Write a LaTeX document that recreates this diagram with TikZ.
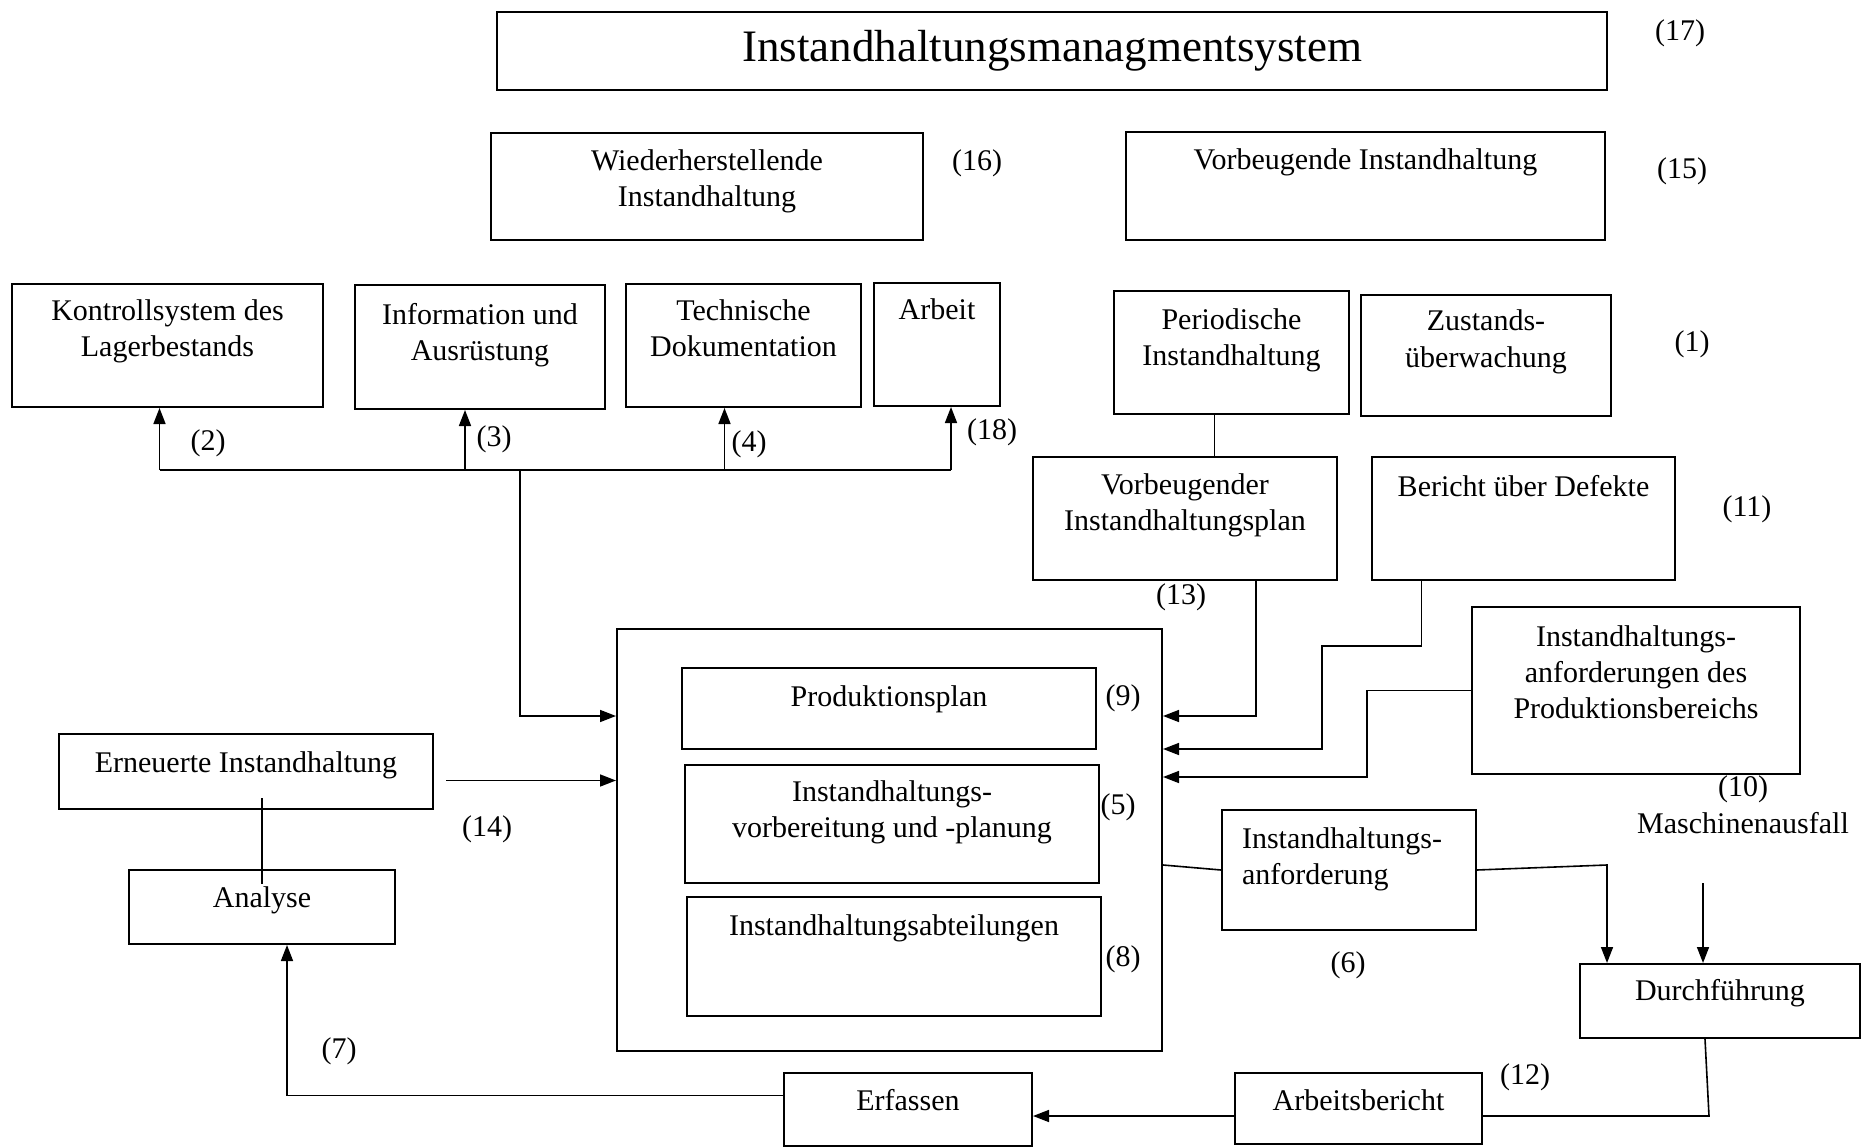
\documentclass[tikz,border=0pt]{standalone}
\usepackage{fontspec}
\setmainfont{Liberation Serif}
\usetikzlibrary{arrows.meta}

\tikzset{
  kasten/.style={draw, line width=2pt, anchor=north west, inner xsep=0pt, inner ysep=0pt,
    align=center, font=\fontsize{30}{36}\selectfont},
  nummer/.style={font=\fontsize{30}{36}\selectfont},
  linie/.style={line width=1.6pt},
  pfeil/.style={line width=1.6pt, -{Triangle[length=16pt,width=12pt]}}
}

\begin{document}
\begin{tikzpicture}[x=1pt,y=-1pt]
\useasboundingbox (0,0) rectangle (1871,1147);

\node[kasten, minimum width=1110pt, minimum height=78pt, font=\fontsize{45}{54}\selectfont] (titel) at (496,11) {Instandhaltungsmanagmentsystem};
\node[kasten, minimum width=432pt, text height=74pt, text depth=33pt] (wieder) at (490,132) {Wiederherstellende\\Instandhaltung};
\node[kasten, minimum width=479pt, text height=38pt, text depth=70pt] (vorbeug) at (1125,131) {Vorbeugende Instandhaltung};

\node[kasten, minimum width=311pt, text height=73pt, text depth=50pt] (kontroll) at (11,283) {Kontrollsystem des\\Lagerbestands};
\node[kasten, minimum width=250pt, text height=76pt, text depth=48pt] (info) at (354,284) {Information und\\Ausrüstung};
\node[kasten, minimum width=235pt, text height=73pt, text depth=50pt] (technik) at (625,283) {Technische\\Dokumentation};
\node[kasten, minimum width=126pt, text height=37pt, text depth=86pt] (arbeit) at (873,282) {Arbeit};

\node[kasten, minimum width=235pt, text height=75pt, text depth=48pt] (periodisch) at (1113,290) {Periodische\\Instandhaltung};
\node[kasten, minimum width=250pt, text height=72pt, text depth=49pt] (zustand) at (1360,294) {Zustands-\\überwachung};
\node[kasten, minimum width=304pt, text height=73pt, text depth=50pt] (vplan) at (1032,456) {Vorbeugender\\Instandhaltungsplan};
\node[kasten, minimum width=303pt, text height=39pt, text depth=84pt] (bericht) at (1371,456) {Bericht über Defekte};
\node[kasten, minimum width=328pt, text height=111pt, text depth=56pt] (prodber) at (1471,606) {Instandhaltungs-\\anforderungen des\\Produktionsbereichs};

\node[kasten, minimum width=545pt, minimum height=422pt] (haupt) at (616,628) {};
\node[kasten, minimum width=414pt, text height=38pt, text depth=43pt] (prodplan) at (681,667) {Produktionsplan};
\node[kasten, minimum width=414pt, text height=72pt, text depth=46pt] (vorber) at (684,764) {Instandhaltungs-\\vorbereitung und -planung};
\node[kasten, minimum width=414pt, text height=38pt, text depth=81pt] (abteil) at (686,896) {Instandhaltungsabteilungen};

\node[kasten, minimum width=254pt, text width=214pt, align=left, text height=38pt, text depth=82pt] (anford) at (1221,809) {Instandhaltungs-\\anforderung};
\node[kasten, minimum width=280pt, text height=36pt, text depth=38pt] (durch) at (1579,963) {Durchführung};
\node[kasten, minimum width=247pt, text height=37pt, text depth=34pt] (arbber) at (1234,1072) {Arbeitsbericht};
\node[kasten, minimum width=248pt, text height=37pt, text depth=36pt] (erfassen) at (783,1072) {Erfassen};
\node[kasten, minimum width=266pt, text height=37pt, text depth=37pt] (analyse) at (128,869) {Analyse};
\node[kasten, minimum width=374pt, text height=38pt, text depth=37pt] (erneuert) at (58,733) {Erneuerte Instandhaltung};

\node[nummer] (nr17) at (1680,33) {(17)};
\node[nummer] (nr16) at (977,163) {(16)};
\node[nummer] (nr15) at (1682,171) {(15)};
\node[nummer] (nr1) at (1692,344) {(1)};
\node[nummer] (nr2) at (208,443) {(2)};
\node[nummer] (nr3) at (494,439) {(3)};
\node[nummer] (nr4) at (749,444) {(4)};
\node[nummer] (nr18) at (992,432) {(18)};
\node[nummer] (nr11) at (1747,509) {(11)};
\node[nummer] (nr13) at (1181,597) {(13)};
\node[nummer] (nr9) at (1123,698) {(9)};
\node[nummer] (nr5) at (1118,807) {(5)};
\node[nummer] (nr8) at (1123,959) {(8)};
\node[nummer] (nr14) at (487,829) {(14)};
\node[nummer] (nr10) at (1743,789) {(10)};
\node[nummer] (ausfall) at (1743,823) {Maschinenausfall};
\node[nummer] (nr6) at (1348,965) {(6)};
\node[nummer] (nr7) at (339,1051) {(7)};
\node[nummer] (nr12) at (1525,1077) {(12)};

\coordinate (verteiler) at (520,470);
\draw[linie] ([xshift=-8pt]kontroll.south |- verteiler) -- ([xshift=14pt]arbeit.south |- verteiler);
\draw[pfeil] ([xshift=-8pt]kontroll.south |- verteiler) -- ([xshift=-8pt]kontroll.south);
\draw[pfeil] ([xshift=-15pt]info.south |- verteiler) -- ([xshift=-15pt]info.south);
\draw[pfeil] ([xshift=-19pt]technik.south |- verteiler) -- ([xshift=-19pt]technik.south);
\draw[pfeil] ([xshift=14pt]arbeit.south |- verteiler) -- ([xshift=14pt]arbeit.south);
\draw[pfeil] (verteiler) |- ([yshift=-88pt]haupt.north west);

\draw[linie] ([xshift=-17pt]periodisch.south) -- ([xshift=-17pt]periodisch.south |- vplan.north);
\draw[pfeil] ([xshift=71pt]vplan.south) |- ([yshift=-88pt]haupt.north east);
\draw[pfeil] ([xshift=-102pt]bericht.south) |- (1322,646) |- ([yshift=-121pt]haupt.north east);
\draw[pfeil] (prodber.west) -| (1367,777) -- ([yshift=-149pt]haupt.north east);

\coordinate (knick) at (1607,865);
\draw[linie] ([yshift=-237pt]haupt.north east) -- (anford.west);
\draw[pfeil] (anford.east) -- (knick) -- (knick |- durch.north);
\coordinate (ausfallpfeil) at (1703,883);
\draw[pfeil] (ausfallpfeil) -- (ausfallpfeil |- durch.north);

\coordinate (unten) at (1709,1116);
\draw[linie] ([xshift=-15pt]durch.south) -- (unten) -- (unten -| arbber.east);
\draw[pfeil] (unten -| arbber.west) -- (unten -| erfassen.east);
\draw[pfeil] ([yshift=14pt]erfassen.west) -| ([xshift=25pt]analyse.south);

\draw[linie] ([yshift=12pt]erneuert.south -| analyse.north) -- ([yshift=-15pt]analyse.north);
\coordinate (e14) at ([xshift=12pt,yshift=-9pt]erneuert.east);
\draw[pfeil] (e14) -- (e14 -| haupt.west);
\end{tikzpicture}
\end{document}
